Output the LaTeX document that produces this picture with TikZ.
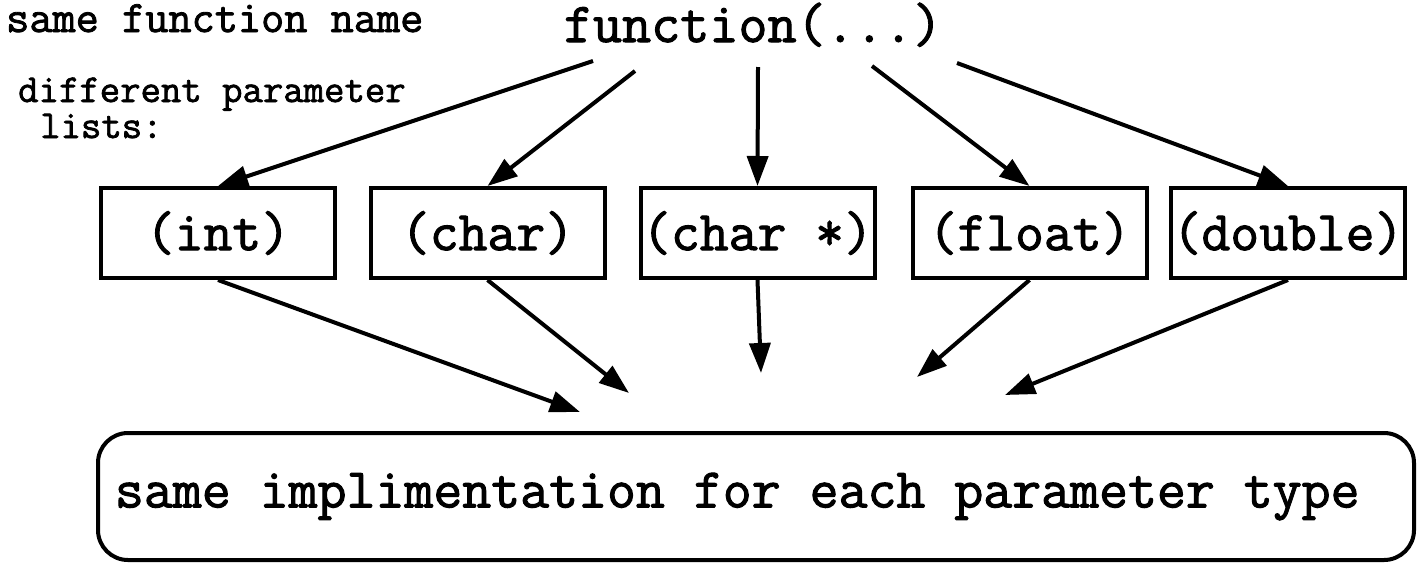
\documentclass[tikz,border=0pt]{standalone}
\usepackage{fontspec}
\setmonofont{Latin Modern Mono}[FakeBold=1.8]
\usetikzlibrary{arrows.meta}
\begin{document}
\begin{tikzpicture}[x=1pt,y=-1pt,
  mono/.style={font=\ttfamily\fontsize{#1}{#1}\selectfont, inner sep=0pt},
  tbox/.style={draw, line width=4pt, minimum width=234pt, minimum height=90pt, inner sep=0pt,
               font=\ttfamily\fontsize{56}{56}\selectfont},
  arr/.style={line width=4pt, -{Triangle[length=30pt,width=21pt]}}]
\useasboundingbox (0,0) rectangle (1420,563);

% labels
\node[mono=45, anchor=base west] (same) at (6,32) {same function name};
\node[mono=39.6, anchor=base west] (diff) at (18,102) {different parameter};
\node[mono=39.6, anchor=base west] (lists) at (40,138) {lists:};
\node[mono=56.5, anchor=base] (fn) at (753,42) {function(...)};

% parameter boxes
\node[tbox] (int)  at (218,233)   {(int)};
\node[tbox] (chr)  at (487.5,233) {(char)};
\node[tbox] (chp)  at (757.5,233) {(char *)};
\node[tbox] (flt)  at (1029.5,233){(float)};
\node[tbox] (dbl)  at (1288,233)  {(double)};

% implementation box
\node[draw, line width=4pt, rounded corners=30pt, minimum width=1316pt, minimum height=127pt,
      inner sep=0pt, font=\ttfamily\fontsize{56.2}{56.2}\selectfont] (impl) at (756,496.5)
      {\makebox[1282pt][l]{same implimentation for each parameter type}};

% start coordinates below function(...)
\coordinate (s1) at (593,61);
\coordinate (s2) at (635,71);
\coordinate (s3) at (758,67);
\coordinate (s4) at (872,66);
\coordinate (s5) at (957,63);

% end coordinates above implementation box
\coordinate (e1) at (580,412);
\coordinate (e2) at (629,393);
\coordinate (e3) at (761,373);
\coordinate (e4) at (917,377);
\coordinate (e5) at (1005,395);

\draw[arr] (s1) -- (int.north);
\draw[arr] (s2) -- (chr.north);
\draw[arr] (s3) -- (chp.north);
\draw[arr] (s4) -- (flt.north);
\draw[arr] (s5) -- (dbl.north);

\draw[arr] (int.south) -- (e1);
\draw[arr] (chr.south) -- (e2);
\draw[arr] (chp.south) -- (e3);
\draw[arr] (flt.south) -- (e4);
\draw[arr] (dbl.south) -- (e5);
\end{tikzpicture}
\end{document}
